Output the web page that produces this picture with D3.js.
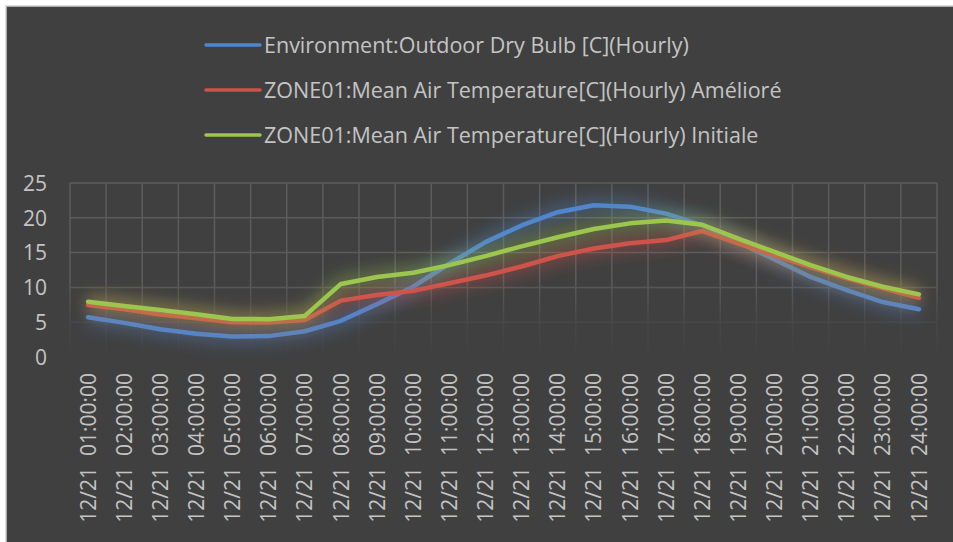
<!DOCTYPE html>
<html>
<head>
<meta charset="utf-8">
<script src="https://cdn.jsdelivr.net/npm/d3@7"></script>
<style>
  body { margin: 0; background: #ffffff; }
  text { font-family: "Open Sans", "Noto Sans", sans-serif; fill: #c4c4c4; }
</style>
</head>
<body>
<script>
// hourly values
const hours = ["01:00:00", "02:00:00", "03:00:00", "04:00:00", "05:00:00", "06:00:00",
  "07:00:00", "08:00:00", "09:00:00", "10:00:00", "11:00:00", "12:00:00",
  "13:00:00", "14:00:00", "15:00:00", "16:00:00", "17:00:00", "18:00:00",
  "19:00:00", "20:00:00", "21:00:00", "22:00:00", "23:00:00", "24:00:00"];
const categories = hours.map(h => "12/21  " + h);

const outdoor = [5.7, 4.9, 4.0, 3.35, 2.95, 3.0, 3.7, 5.2, 7.6, 10.1, 13.4, 16.5,
  18.9, 20.8, 21.8, 21.6, 20.6, 18.9, 16.5, 14.0, 11.5, 9.6, 7.9, 6.85];
const ameliore = [7.47, 6.85, 6.1, 5.56, 5.0, 4.95, 5.3, 8.1, 8.9, 9.5, 10.6, 11.7,
  13.0, 14.5, 15.6, 16.35, 16.8, 18.1, 16.3, 14.6, 12.9, 11.3, 9.85, 8.5];
const initiale = [7.95, 7.33, 6.76, 6.14, 5.47, 5.43, 5.9, 10.5, 11.5, 12.1, 13.2, 14.5,
  15.9, 17.2, 18.4, 19.2, 19.6, 19.0, 17.0, 15.1, 13.2, 11.5, 10.1, 9.0];

const seriesNames = ["Environment:Outdoor Dry Bulb [C](Hourly)",
  "ZONE01:Mean Air Temperature[C](Hourly) Amélioré",
  "ZONE01:Mean Air Temperature[C](Hourly) Initiale"];
const seriesValues = [outdoor, ameliore, initiale];
const seriesColors = ["#4f86cd", "#d0514a", "#9cc64e"];

const yTicks = [0, 5, 10, 15, 20, 25];

let svg, x, y;
const W = 953, H = 542;
const plot = {left: 70, right: 937, top: 183, bottom: 357};

appendSvg();
setupScales();
appendGrid();
appendAxes();
appendLines();
appendLegend();

function appendSvg() {
  svg = d3.select("body").append("svg")
    .attr("width", W)
    .attr("height", H);

  svg.append("rect")
    .attr("x", 6).attr("y", 6)
    .attr("width", W + 10).attr("height", H + 10)
    .attr("fill", "#404040")
    .attr("stroke", "#d0d0d0")
    .attr("stroke-width", 1.5);

  const defs = svg.append("defs");

  // gridlines fade out toward the bottom of the plot
  const grad = defs.append("linearGradient")
    .attr("id", "fade")
    .attr("gradientUnits", "userSpaceOnUse")
    .attr("x1", 0).attr("x2", 0)
    .attr("y1", plot.top).attr("y2", plot.bottom);
  grad.append("stop").attr("offset", "0%").attr("stop-color", "#fff");
  grad.append("stop").attr("offset", "56%").attr("stop-color", "#fff");
  grad.append("stop").attr("offset", "78%").attr("stop-color", "#fff").attr("stop-opacity", 0.3);
  grad.append("stop").attr("offset", "100%").attr("stop-color", "#fff").attr("stop-opacity", 0.03);

  defs.append("mask")
    .attr("id", "gridMask")
    .attr("maskUnits", "userSpaceOnUse")
    .attr("x", 0).attr("y", 0).attr("width", W).attr("height", H)
    .append("rect")
    .attr("x", 0).attr("y", plot.top - 5)
    .attr("width", W).attr("height", plot.bottom - plot.top + 10)
    .attr("fill", "url(#fade)");

  defs.append("filter")
    .attr("id", "glow")
    .attr("x", "-20%").attr("y", "-50%")
    .attr("width", "140%").attr("height", "200%")
    .append("feGaussianBlur")
    .attr("stdDeviation", 8);
}

function setupScales() {
  x = d3.scaleBand()
    .domain(categories)
    .range([plot.left, plot.right]);

  y = d3.scaleLinear()
    .domain([0, 25])
    .range([plot.bottom, plot.top]);
}

function appendGrid() {
  const grid = svg.append("g")
    .attr("mask", "url(#gridMask)")
    .attr("stroke", "#5c5c5c")
    .attr("stroke-width", 1.5);

  grid.selectAll(".hline")
    .data(yTicks)
    .enter().append("line")
    .attr("x1", plot.left).attr("x2", plot.right)
    .attr("y1", d => y(d)).attr("y2", d => y(d));

  const edges = categories.map(c => x(c)).concat([plot.right]);
  grid.selectAll(".vline")
    .data(edges)
    .enter().append("line")
    .attr("x1", d => d).attr("x2", d => d)
    .attr("y1", plot.top).attr("y2", plot.bottom);
}

function appendAxes() {
  const yAxis = svg.append("g")
    .attr("transform", "translate(47,0)")
    .call(d3.axisLeft(y).tickValues(yTicks).tickSize(0).tickPadding(0));
  yAxis.select(".domain").remove();
  yAxis.selectAll("text")
    .attr("font-size", 21)
    .attr("font-family", null)
    .attr("fill", null)
    .attr("dy", "0.35em");

  const xAxis = svg.append("g")
    .attr("transform", `translate(0,${plot.bottom})`)
    .call(d3.axisBottom(x).tickSize(0));
  xAxis.select(".domain").remove();
  xAxis.selectAll("text")
    .attr("font-size", 21)
    .attr("font-family", null)
    .attr("fill", null)
    .attr("text-anchor", "end")
    .attr("transform", "rotate(-90)")
    .attr("x", -16)
    .attr("y", 0)
    .attr("dy", "0.36em")
    .style("white-space", "pre");
}

function appendLines() {
  const line = d3.line()
    .x((d, i) => x(categories[i]) + x.bandwidth() / 2)
    .y(d => y(d));

  seriesValues.forEach((vals, k) => {
    svg.append("path")
      .datum(vals)
      .attr("d", line)
      .attr("fill", "none")
      .attr("stroke", seriesColors[k])
      .attr("stroke-width", 14)
      .attr("stroke-opacity", 0.4)
      .attr("stroke-linejoin", "round")
      .attr("filter", "url(#glow)");

    svg.append("path")
      .datum(vals)
      .attr("d", line)
      .attr("fill", "none")
      .attr("stroke", seriesColors[k])
      .attr("stroke-width", 4.5)
      .attr("stroke-linejoin", "round")
      .attr("stroke-linecap", "round");
  });
}

function appendLegend() {
  const legend = svg.append("g")
    .selectAll("g")
    .data(seriesNames)
    .enter().append("g")
    .attr("transform", (d, i) => `translate(206,${45 + 45 * i})`);

  legend.append("line")
    .attr("x1", 0).attr("x2", 54)
    .attr("stroke", (d, i) => seriesColors[i])
    .attr("stroke-width", 3.5)
    .attr("stroke-linecap", "round");

  legend.append("text")
    .attr("x", 58)
    .attr("dy", "0.36em")
    .attr("font-size", 21.5)
    .text(d => d);
}
</script>
</body>
</html>
